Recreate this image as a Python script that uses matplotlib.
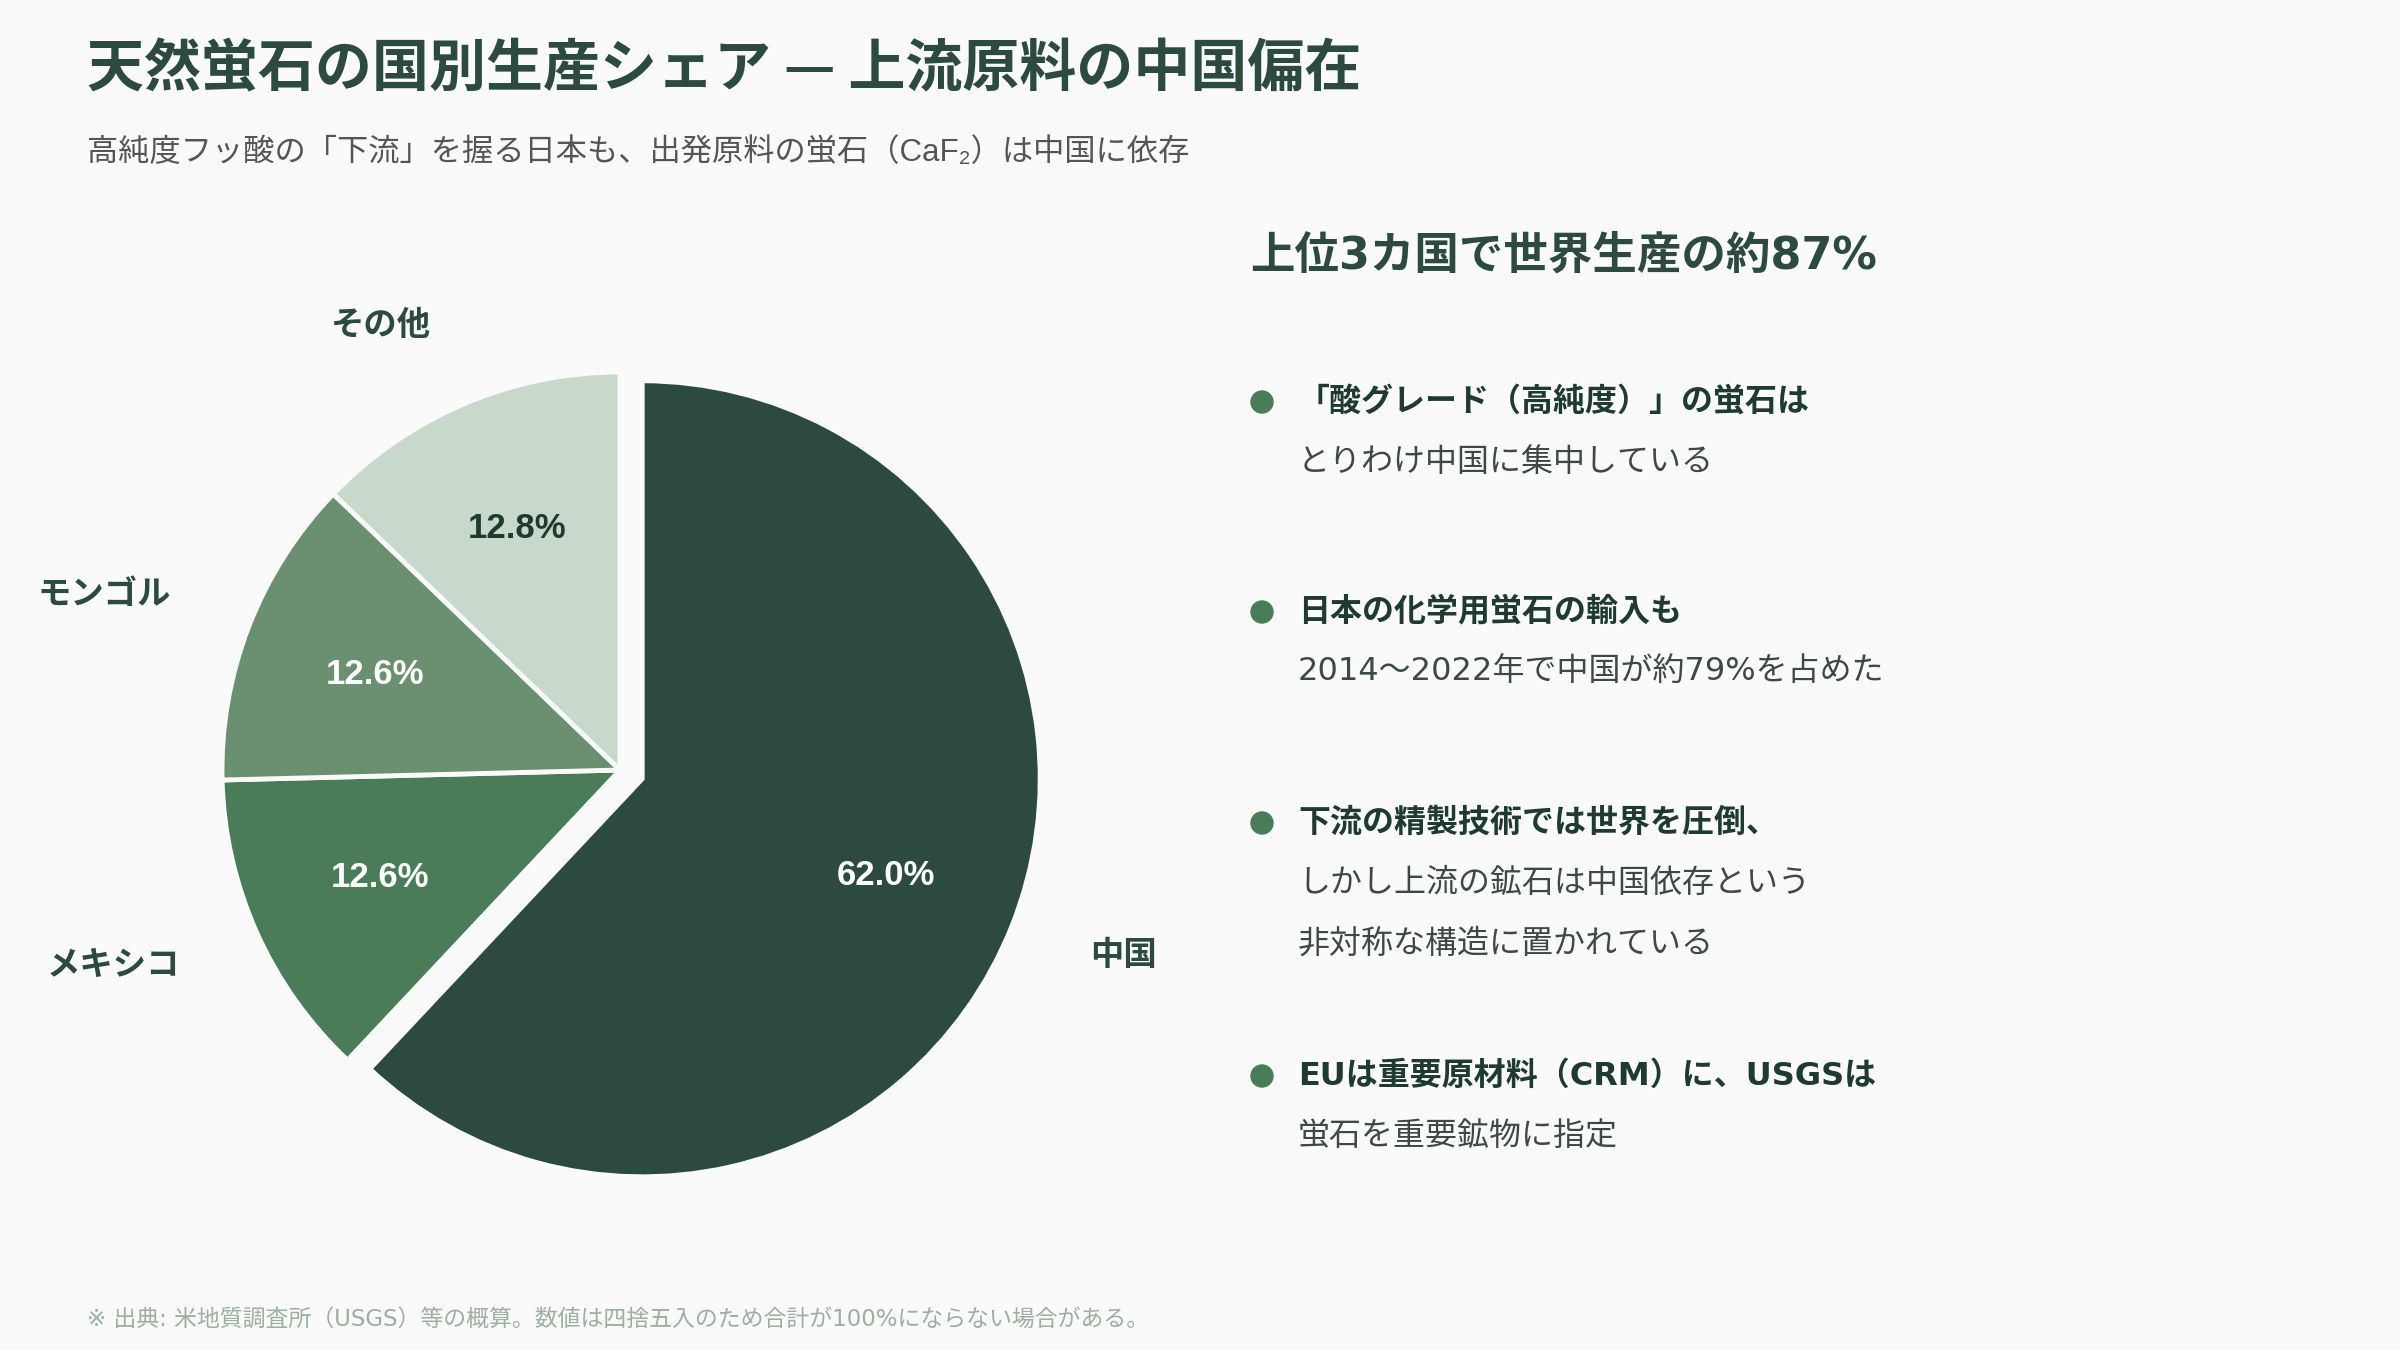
import matplotlib
matplotlib.use("Agg")
import matplotlib.pyplot as plt
from matplotlib.patches import Circle

# latin glyphs from Liberation Sans, everything else from the CJK family
plt.rcParams['font.family'] = ['Liberation Sans', 'Noto Sans CJK JP', 'DejaVu Sans']
wide = ['DejaVu Sans', 'Noto Sans CJK JP']

# data
countries = ['中国', 'メキシコ', 'モンゴル', 'その他']
shares = [62.0, 12.6, 12.6, 12.8]
colors = ['#2d4a3e', '#4a7c59', '#6b8f71', '#c8d9cb']
pct_colors = ['white', 'white', 'white', '#1f3a2e']
explode = [0.06, 0, 0, 0]

title = '天然蛍石の国別生産シェア — 上流原料の中国偏在'
subtitle = '高純度フッ酸の「下流」を握る日本も、出発原料の蛍石（CaF₂）は中国に依存'
panel_title = '上位3カ国で世界生産の約87%'
bullets = [
    ['「酸グレード（高純度）」の蛍石は', 'とりわけ中国に集中している'],
    ['日本の化学用蛍石の輸入も', '2014～2022年で中国が約79%を占めた'],
    ['下流の精製技術では世界を圧倒、', 'しかし上流の鉱石は中国依存という', '非対称な構造に置かれている'],
    ['EUは重要原材料（CRM）に、USGSは', '蛍石を重要鉱物に指定'],
]
footnote = '※ 出典: 米地質調査所（USGS）等の概算。数値は四捨五入のため合計が100%にならない場合がある。'

dark = '#2d4a3e'
bg = '#fafafa'

fig = plt.figure(figsize=(24, 13.5), dpi=100, facecolor=bg)

# pie: center at (620, 770) px, radius ~398 px
half = 500 / 398
ax = fig.add_axes([120 / 2400, 1 - 1270 / 1350, 1000 / 2400, 1000 / 1350])
ax.set_facecolor(bg)
wedges, texts, autotexts = ax.pie(
    shares, labels=countries, colors=colors, explode=explode,
    startangle=90, counterclock=False, autopct='%.1f%%',
    pctdistance=0.66, labeldistance=1.21,
    wedgeprops=dict(edgecolor=bg, linewidth=3.5),
    textprops=dict(fontsize=24, fontweight='bold', color=dark))
for t, c in zip(autotexts, pct_colors):
    t.set_color(c)
    t.set_fontsize(25)
ax.set_xlim(-half, half)
ax.set_ylim(-half, half)
ax.set_aspect('equal')
ax.axis('off')

# overlay in pixel coords for all the page text
ov = fig.add_axes([0, 0, 1, 1], zorder=-1)
ov.set_xlim(0, 2400)
ov.set_ylim(1350, 0)
ov.axis('off')

ov.text(87, 69, title, fontsize=41, fontweight='bold', color=dark, va='center',
        family=['Noto Sans CJK JP', 'DejaVu Sans'])
ov.text(87, 153, subtitle, fontsize=22.5, color='#555555', va='center')
ov.text(1250, 256, panel_title, fontsize=32, fontweight='bold', color=dark, va='center',
        family=wide)

ys = [[402, 462], [612, 672], [823, 883, 944], [1076, 1136]]
for lines, yy in zip(bullets, ys):
    ov.add_patch(Circle((1262, yy[0]), 11, color='#4a7c59'))
    ov.text(1298, yy[0], lines[0], fontsize=23, fontweight='bold', color='#1f3a2e', va='center',
            family=wide)
    for s, y in zip(lines[1:], yy[1:]):
        ov.text(1298, y, s, fontsize=23, color='#3d4a44', va='center', family=wide)

ov.text(87, 1319, footnote, fontsize=16.5, color='#9bb0a0', va='center', family=wide)

fig.savefig('out.png', dpi=100, facecolor=bg)
